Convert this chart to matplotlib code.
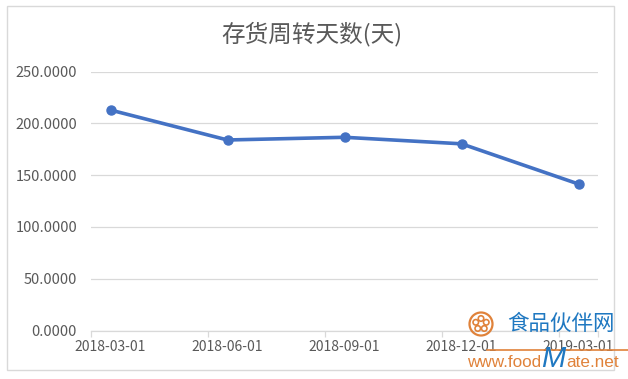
import matplotlib
matplotlib.use("Agg")
import matplotlib.pyplot as plt
from matplotlib.patches import Rectangle, Ellipse
import numpy as np

plt.rcParams['font.family'] = ['Noto Sans CJK SC', 'DejaVu Sans']

title = "存货周转天数(天)"
categories = ["2018-03-01", "2018-06-01", "2018-09-01", "2018-12-01", "2019-03-01"]
month_index = [0, 3, 6, 9, 12]   # months since 2018-03
values = [212.8, 183.9, 186.5, 180.2, 141.4]
y_ticks = [0, 50, 100, 150, 200, 250]

W, H = 628, 379
fig = plt.figure(figsize=(W / 100, H / 100), dpi=100)
fig.patch.set_facecolor("white")

# outer chart border
fig.add_artist(Rectangle((7 / W, 1 - 370 / H), (614 - 7) / W, (370 - 6) / H,
                         transform=fig.transFigure, fill=False,
                         edgecolor="#D9D9D9", linewidth=1.0))

ax = fig.add_axes([91 / W, 1 - 330.5 / H, (598 - 91) / W, (330.5 - 71.5) / H])
ax.set_xlim(-0.5, 12.5)
ax.set_ylim(0, 250)

ax.plot(month_index, values, color="#4472C4", linewidth=2.6, marker="o",
        markersize=6.5, markerfacecolor="#4472C4", markeredgecolor="#4472C4",
        solid_capstyle="round", zorder=3)

ax.set_yticks(y_ticks)
ax.set_yticklabels([f"{v:.4f}" for v in y_ticks])
ax.yaxis.grid(True, color="#D9D9D9", linewidth=0.9)
ax.set_axisbelow(True)

ax.set_xticks(month_index)
ax.set_xticklabels(categories)
ax.set_xticks([-0.5, 2.5, 5.5, 8.5, 11.5, 12.5], minor=True)
ax.tick_params(axis="x", which="major", length=0, pad=7, labelsize=10, labelcolor="#595959")
ax.tick_params(axis="x", which="minor", length=4, color="#D9D9D9", width=0.9)
ax.tick_params(axis="y", length=0, pad=10, labelsize=10.5, labelcolor="#595959")

for s in ["top", "right", "left"]:
    ax.spines[s].set_visible(False)
ax.spines["bottom"].set_color("#D9D9D9")
ax.spines["bottom"].set_linewidth(0.9)

fig.text(312 / W, 1 - 34 / H, title, ha="center", va="center",
         fontsize=17, color="#595959")

# watermark
orange = "#E0823A"
blue = "#1F78C1"
cx, cy, r = 481 / W, 1 - 324 / H, 11.5
fig.add_artist(Ellipse((cx, cy), 2 * r / W, 2 * r / H, transform=fig.transFigure,
                       fill=False, edgecolor=orange, linewidth=1.6))
for k in range(5):
    a = np.pi / 2 + k * 2 * np.pi / 5
    fig.add_artist(Ellipse((cx + 5.5 * np.cos(a) / W, cy + 5.5 * np.sin(a) / H), 5.5 / W, 5.5 / H,
                           transform=fig.transFigure, fill=False,
                           edgecolor=orange, linewidth=1.2))
fig.text(561 / W, 1 - 324 / H, "食品伙伴网", ha="center", va="center",
         fontsize=15.5, color=blue)
fig.add_artist(plt.Line2D([487 / W, 628 / W], [1 - 350 / H, 1 - 350 / H],
                          transform=fig.transFigure, color=orange, linewidth=1.2))

fig.canvas.draw()
r_ = fig.canvas.get_renderer()
t1 = fig.text(467 / W, 1 - 367 / H, "www.food", ha="left", va="baseline",
              fontsize=12.3, color=orange, family=["Liberation Sans"])
x1 = t1.get_window_extent(r_).x1 / W
t2 = fig.text(x1 + 0.3 / W, 1 - 367 / H, "M", ha="left", va="baseline",
              fontsize=21, color=blue, style="italic", family=["Liberation Sans"])
x2 = t2.get_window_extent(r_).x1 / W
fig.text(x2 + 0.3 / W, 1 - 367 / H, "ate.net", ha="left", va="baseline",
         fontsize=12.3, color=orange, family=["Liberation Sans"])

fig.savefig("out.png", dpi=100, facecolor="white")
